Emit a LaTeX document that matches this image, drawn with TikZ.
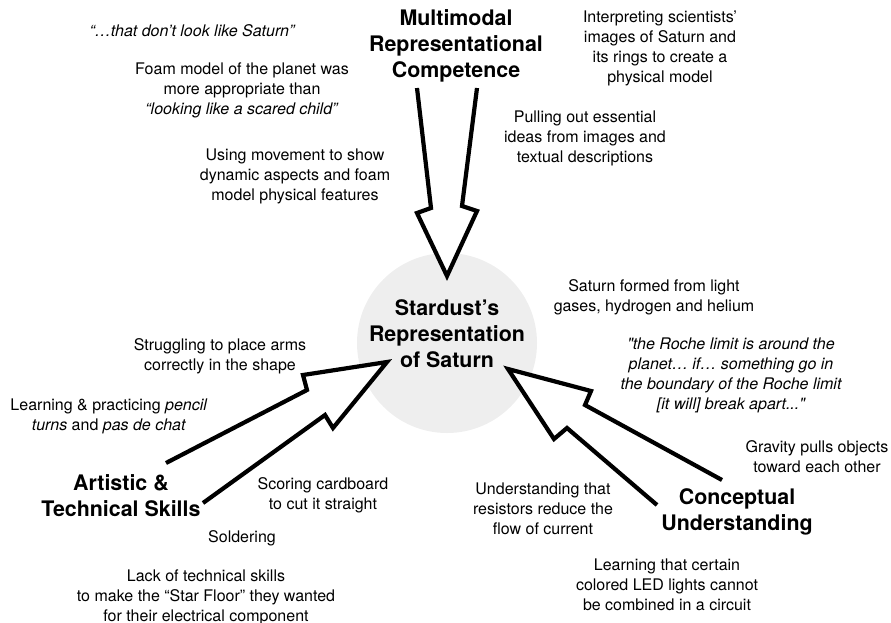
\documentclass[tikz,border=0pt]{standalone}
\usepackage{fontspec}
\setmainfont{TeX Gyre Heros}
\definecolor{satfill}{RGB}{238,238,238}
\newcommand\straightq{\XeTeXglyph\XeTeXcharglyph"22\relax}
\begin{document}
\begin{tikzpicture}[x=1pt,y=-1pt,
  body/.style={align=center, font=\fontsize{16}{20}\selectfont, inner sep=0pt},
  bodyit/.style={body, font=\fontsize{16}{20}\selectfont\itshape},
  head/.style={align=center, font=\fontsize{21.4}{26}\selectfont\bfseries, inner sep=0pt},
  blockarrow/.style={draw=black, fill=white, line width=4.2pt, miter limit=10}]
\useasboundingbox (0,0) rectangle (891,622);

% central circle
\node[circle, fill=satfill, minimum size=180pt, inner sep=0pt] (satcircle) at (447,343) {};

% top arrow
\coordinate (tA1) at (417,88);
\coordinate (tA2) at (431,208);
\coordinate (tA3) at (417,213);
\coordinate (tTip) at (447,276);
\coordinate (tA5) at (477,211);
\coordinate (tA6) at (462,206);
\coordinate (tA7) at (477,88);
\path[blockarrow] (tA1) -- (tA2) -- (tA3) -- (tTip) -- (tA5) -- (tA6) -- (tA7);

% left arrow
\coordinate (lA1) at (166,463);
\coordinate (lA2) at (307,390);
\coordinate (lA3) at (303,375);
\coordinate (lTip) at (387,362);
\coordinate (lA5) at (333,428);
\coordinate (lA6) at (325,415);
\coordinate (lA7) at (203,503);
\path[blockarrow] (lA1) -- (lA2) -- (lA3) -- (lTip) -- (lA5) -- (lA6) -- (lA7);

% right arrow
\coordinate (rA1) at (722,480);
\coordinate (rA2) at (585,405);
\coordinate (rA3) at (591,391);
\coordinate (rTip) at (508,369);
\coordinate (rA5) at (554,439);
\coordinate (rA6) at (567,428);
\coordinate (rA7) at (657,505);
\path[blockarrow] (rA1) -- (rA2) -- (rA3) -- (rTip) -- (rA5) -- (rA6) -- (rA7);

% headings
\node[head] (mrc) at (456,46) {Multimodal\\Representational\\Competence};
\node[head] (sat) at (447,334) {Stardust’s\\Representation\\of Saturn};
\node[head] (ats) at (121,496) {Artistic \&\\Technical Skills};
\node[head] (cu) at (737,512) {Conceptual\\Understanding};

% body texts
\node[bodyit] (t1) at (192,31) {“…that don’t look like Saturn”};
\node[body] (t2) at (242,90) {Foam model of the planet was\\more appropriate than\\\textit{“looking like a scared child”}};
\node[body] (t3) at (295,176) {Using movement to show\\dynamic aspects and foam\\model physical features};
\node[body] (t4) at (660,48) {Interpreting scientists’\\images of Saturn and\\its rings to create a\\physical model};
\node[body] (t5) at (585,138) {Pulling out essential\\ideas from images and\\textual descriptions};
\node[body] (t6) at (654,297) {Saturn formed from light\\gases, hydrogen and helium};
\node[bodyit] (t7) at (731,375) {\straightq the Roche limit is around the\\planet… if… something go in\\the boundary of the Roche limit\\{[it will] break apart...\straightq}};
\node[body] (t8) at (817,457) {Gravity pulls objects\\toward each other};
\node[body] (t9) at (667,585) {Learning that certain\\colored LED lights cannot\\be combined in a circuit};
\node[body] (t10) at (543,509) {Understanding that\\resistors reduce the\\flow of current};
\node[body] (t11) at (220,356) {Struggling to place arms\\correctly in the shape};
\node[body] (t12) at (109,416) {Learning \& practicing \textit{pencil}\\\textit{turns} and \textit{pas de chat}};
\node[body] (t13) at (323,495) {Scoring cardboard\\to cut it straight};
\node[body] (t14) at (242,538) {Soldering};
\node[body] (t15) at (206,597) {Lack of technical skills\\to make the “Star Floor” they wanted\\for their electrical component};
\end{tikzpicture}
\end{document}
